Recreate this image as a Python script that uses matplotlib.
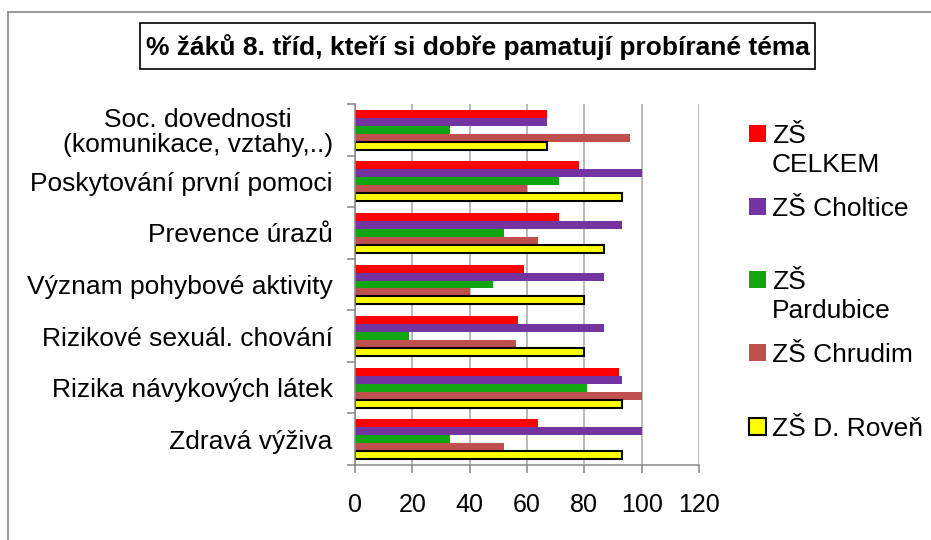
import numpy as np
import matplotlib.pyplot as plt
from matplotlib import font_manager
from matplotlib.patches import Rectangle
from matplotlib.lines import Line2D

# data (top to bottom)
categories = ["Soc. dovednosti\n(komunikace, vztahy,..)",
              "Poskytování první pomoci",
              "Prevence úrazů",
              "Význam pohybové aktivity",
              "Rizikové sexuál. chování",
              "Rizika návykových látek",
              "Zdravá výživa"]
celkem = [67, 78, 71, 59, 57, 92, 64]
choltice = [67, 100, 93, 87, 87, 93, 100]
pardubice = [33, 71, 52, 48, 19, 81, 33]
chrudim = [96, 60, 64, 40, 56, 100, 52]
roven = [67, 93, 87, 80, 80, 93, 93]
series_labels = ["ZŠ\nCELKEM", "ZŠ Choltice", "ZŠ\nPardubice", "ZŠ Chrudim", "ZŠ D. Roveň"]
x_ticks = [0, 20, 40, 60, 80, 100, 120]
title = "% žáků 8. tříd, kteří si dobře pamatují probírané téma"

colors = ["#FF0000", "#7334A0", "#12A512", "#C0504D", "#FFFF00"]
edges = [None, None, None, None, "black"]

plt.rcParams['font.family'] = ['Liberation Sans', 'DejaVu Sans']
names = {f.name for f in font_manager.fontManager.ttflist}
title_font = 'Liberation Sans Narrow' if 'Liberation Sans Narrow' in names else 'Liberation Sans'

W, H = 931, 540
fig = plt.figure(figsize=(W / 100, H / 100), dpi=100)
ax = fig.add_axes([355 / W, 1 - 465 / H, 344 / W, 361 / H])

series = [celkem, choltice, pardubice, chrudim, roven]
y = np.arange(len(categories))
h = 0.155
for i, (vals, c, ec) in enumerate(zip(series, colors, edges)):
    ax.barh(y + (i - 2) * h, vals, height=h, color=c,
            edgecolor=ec if ec else c, linewidth=1.5 if ec else 0, zorder=3)

ax.set_xlim(0, 120)
ax.set_ylim(len(categories) - 0.5, -0.5)
ax.set_xticks(x_ticks)
ax.set_xticklabels([str(t) for t in x_ticks], fontsize=18)
ax.tick_params(axis='x', direction='out', length=6, width=1.1, color='#868686', pad=14)

# category boundaries as major ticks, labels on minor ticks
ax.set_yticks(np.arange(-0.5, len(categories), 1.0))
ax.set_yticklabels([])
ax.set_yticks(y, minor=True)
ax.set_yticklabels(categories, minor=True, fontsize=19, linespacing=1.05, multialignment='center')
ax.tick_params(axis='y', which='major', direction='out', length=6, width=1.1, color='#868686')
ax.tick_params(axis='y', which='minor', length=0, pad=16)

ax.grid(axis='x', color='#A6A6A6', linewidth=1.1, zorder=0)
ax.set_axisbelow(True)
for s in ['top', 'right']:
    ax.spines[s].set_visible(False)
for s in ['left', 'bottom']:
    ax.spines[s].set_color('#868686')
    ax.spines[s].set_linewidth(1.1)
    ax.spines[s].set_zorder(4)

# outer chart border (only top and left visible)
fig.add_artist(Line2D([8 / W, 1], [1 - 12 / H, 1 - 12 / H], color='#808080', lw=1.1))
fig.add_artist(Line2D([8 / W, 8 / W], [1 - 12 / H, 0], color='#808080', lw=1.1))

# title box
fig.add_artist(Rectangle((140 / W, 1 - 69 / H), 675 / W, 46 / H, transform=fig.transFigure,
                         facecolor='white', edgecolor='black', lw=1.2))
fig.text(477.5 / W, 1 - 47 / H, title, family=[title_font, 'DejaVu Sans'], fontweight='bold',
         fontsize=23 if title_font.endswith('Narrow') else 19, ha='center', va='center')

# legend drawn by hand to keep the marker on the first text line
centers = [133.5, 206.5, 279.5, 352.5, 426]
for lab, c, ec, cy in zip(series_labels, colors, edges, centers):
    fig.add_artist(Rectangle((749 / W, 1 - (cy + 8.5) / H), 17 / W, 17 / H, transform=fig.transFigure,
                             facecolor=c, edgecolor=ec if ec else c, lw=1.5 if ec else 0))
    lines = lab.split("\n")
    for k, line in enumerate(lines):
        fig.text(772 / W, 1 - (cy + 9.5 + k * 28.5) / H, line, fontsize=19, ha='left', va='baseline')

fig.savefig("out.png", dpi=100)
